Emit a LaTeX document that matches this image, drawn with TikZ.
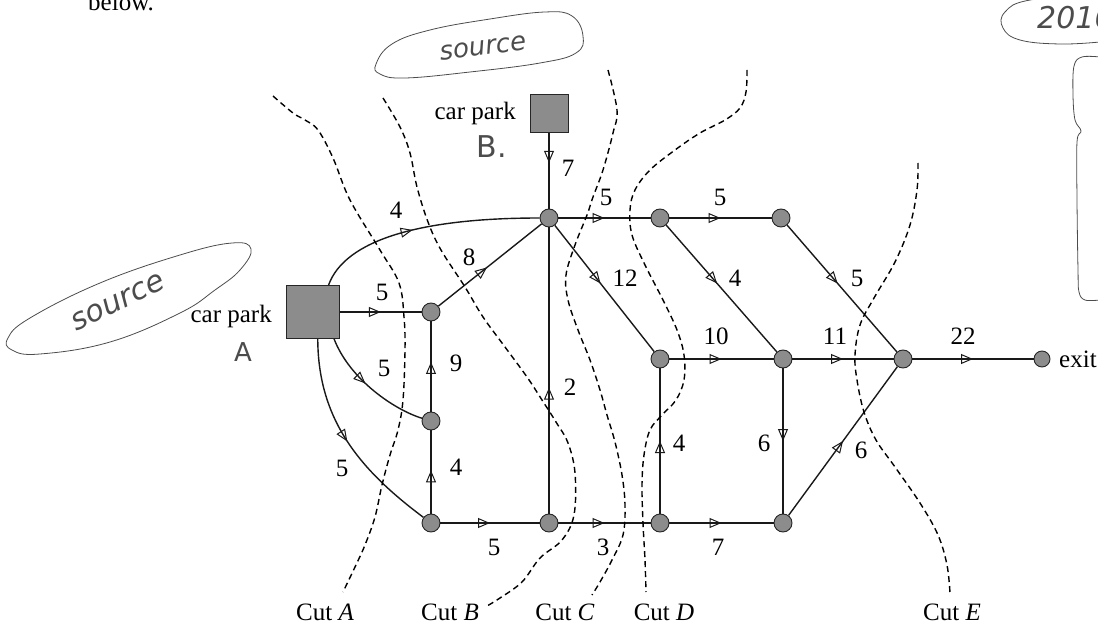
\documentclass[tikz,border=0pt]{standalone}
\usepackage{fontspec}
\setmainfont{Liberation Serif}
\newfontfamily\handfont{DejaVu Sans}
\usetikzlibrary{arrows.meta,decorations.markings}

\begin{document}
\begin{tikzpicture}[x=1pt,y=-1pt,
  vtx/.style={circle, draw=black!85, fill=black!45, line width=0.9pt, inner sep=0pt, minimum size=18pt},
  park/.style={rectangle, draw=black!85, fill=black!45, line width=1pt, inner sep=0pt},
  edge/.style={line width=1.4pt, draw=black!90},
  flow/.style={edge, postaction={decorate}, decoration={markings,
      mark=at position #1 with {\arrow{Triangle[open, length=12pt, width=10pt, line width=1pt]}}}},
  flow/.default=0.5,
  cut/.style={dash pattern=on 6pt off 4pt, line width=1.4pt},
  lbl/.style={font=\fontsize{25}{28}\selectfont, inner sep=0pt},
  hand/.style={draw=black!70, line width=0.8pt},
  handtext/.style={font=\handfont\fontsize{26}{28}\selectfont, text=black!70, inner sep=0pt},
]
\useasboundingbox (0,0) rectangle (1098,628);
\clip (0,0) rectangle (1098,628);

% ---- sources, vertices and exit ----
\node[park, minimum size=53pt] (A) at (313,312) {};
\node[park, minimum size=38pt] (B) at (549,114) {};
\node[vtx] (P)  at (431,312) {};
\node[vtx] (Q)  at (431,421) {};
\node[vtx] (R)  at (431,523) {};
\node[vtx] (S)  at (549,523) {};
\node[vtx] (N1) at (549,218) {};
\node[vtx] (N2) at (660,218) {};
\node[vtx] (N3) at (781,218) {};
\node[vtx] (T)  at (660,359) {};
\node[vtx] (V)  at (783,359) {};
\node[vtx] (X)  at (903,359) {};
\node[vtx] (U)  at (660,523) {};
\node[vtx] (W)  at (783,523) {};
\node[vtx, minimum size=16pt] (E) at (1042,359) {};

% ---- arcs with capacities ----
\draw[flow] (A) -- (P);
\draw[flow=0.45] (A.60) .. controls (345,240) and (420,218) .. (N1);
\draw[flow=0.45] (A.-52) .. controls (350,380) and (395,410) .. (Q);
\draw[flow=0.5] (A.-80) .. controls (318,420) and (360,470) .. (R);
\draw[flow=0.52] (R) -- (Q);
\draw[flow=0.55] (Q) -- (P);
\draw[flow=0.47] (P) -- (N1);
\draw[flow=0.39] (B) -- (N1);
\draw[flow=0.44] (S) -- (N1);
\draw[flow] (R) -- (S);
\draw[flow] (S) -- (U);
\draw[flow] (U) -- (W);
\draw[flow] (N1) -- (N2);
\draw[flow] (N2) -- (N3);
\draw[flow=0.46] (N1) -- (T);
\draw[flow=0.46] (N2) -- (V);
\draw[flow=0.46] (N3) -- (X);
\draw[flow] (T) -- (V);
\draw[flow] (V) -- (X);
\draw[flow] (X) -- (E);
\draw[flow] (U) -- (T);
\draw[flow] (V) -- (W);
\draw[flow] (W) -- (X);

% ---- capacity labels ----
\node[lbl] (cAP)  at (382,292) {5};
\node[lbl] (cAN)  at (396,210) {4};
\node[lbl] (cAQ)  at (384,368) {5};
\node[lbl] (cAR)  at (342,468) {5};
\node[lbl] (cPN)  at (469,257) {8};
\node[lbl] (cQP)  at (456,363) {9};
\node[lbl] (cRQ)  at (456,467) {4};
\node[lbl] (cRS)  at (494,547) {5};
\node[lbl] (cSU)  at (603,547) {3};
\node[lbl] (cUW)  at (718,547) {7};
\node[lbl] (cBN)  at (568,168) {7};
\node[lbl] (cSN)  at (570,387) {2};
\node[lbl] (cN12) at (606,197) {5};
\node[lbl] (cN23) at (720,197) {5};
\node[lbl] (cN1T) at (625,278) {12};
\node[lbl] (cN2V) at (735,278) {4};
\node[lbl] (cN3X) at (857,278) {5};
\node[lbl] (cTV)  at (716,336) {10};
\node[lbl] (cVX)  at (835,336) {11};
\node[lbl] (cXE)  at (963,336) {22};
\node[lbl] (cUT)  at (679,443) {4};
\node[lbl] (cVW)  at (764,443) {6};
\node[lbl] (cWX)  at (861,450) {6};

\node[lbl, anchor=east] (tA) at (272,316) {car park};
\node[lbl, anchor=east] (tB) at (516,113) {car park};
\node[lbl, anchor=west] (tE) at (1059,359) {exit};
\node[lbl, anchor=base west] (tbelow) at (88,11) {below.};

% ---- cuts ----
\draw[cut] plot[smooth, tension=0.6] coordinates {(273,96) (293,113) (305,120) (318,130) (333,158) (350,200) (380,250) (399,283) (404,317) (405,350) (403,400) (398,430) (390,455) (382,485) (375,517) (365,545) (355,567) (343,592)};
\draw[cut] plot[smooth, tension=0.6] coordinates {(383,98) (400,127) (410,153) (417,187) (428,222) (441,250) (465,287) (483,317) (505,347) (527,377) (542,400) (556,422) (568,443) (575,473) (574,515) (562,540) (540,558) (522,582) (500,598) (487,606)};
\draw[cut] plot[smooth, tension=0.6] coordinates {(608,70) (617,110) (613,133) (603,170) (593,197) (587,215) (575,245) (566,275) (568,300) (578,330) (590,360) (600,390) (607,415) (615,442) (622,475) (625,505) (623,535) (612,560) (600,582) (592,595)};
\draw[cut] plot[smooth, tension=0.6] coordinates {(747,70) (746,92) (740,108) (725,120) (700,133) (675,150) (650,170) (635,190) (630,210) (632,235) (645,265) (663,300) (677,330) (684,355) (684,380) (676,400) (662,415) (650,430) (644,455) (642,485) (643,523) (645,560) (646,592)};
\draw[cut] plot[smooth, tension=0.6] coordinates {(918,163) (917,190) (910,225) (895,262) (874,298) (860,325) (855,355) (857,380) (864,412) (876,440) (895,467) (920,503) (938,535) (947,565) (950,593)};

\node[lbl] (kA) at (325,612) {Cut \textit{A}};
\node[lbl] (kB) at (450,612) {Cut \textit{B}};
\node[lbl] (kC) at (565,612) {Cut \textit{C}};
\node[lbl] (kD) at (664,612) {Cut \textit{D}};
\node[lbl] (kE) at (952,612) {Cut \textit{E}};

% ---- pencil notes ----
\draw[hand] plot[smooth cycle, tension=0.7] coordinates {(376,64) (392,44) (430,30) (490,19) (545,12) (572,16) (583,36) (576,53) (540,63) (470,72) (405,78) (380,74)};
\node[handtext, rotate=7] (s1) at (483,48) {\itshape source};
\draw[hand] plot[smooth cycle, tension=0.7] coordinates {(8,338) (30,318) (100,283) (180,255) (232,243) (251,249) (240,270) (215,290) (180,313) (110,342) (40,354) (12,350)};
\node[handtext, rotate=26, font=\handfont\fontsize{30}{32}\selectfont] (s2) at (118,302) {\itshape source};
\node[handtext] (hA) at (243,352) {A};
\node[handtext, font=\handfont\fontsize{30}{32}\selectfont] (hB) at (492,147) {B.};
\draw[hand] plot[smooth, tension=0.7] coordinates {(1100,-6) (1030,0) (1005,12) (1003,28) (1020,40) (1060,44) (1100,42)};
\node[handtext, anchor=west, font=\handfont\fontsize{30}{32}\selectfont] (h2) at (1037,18) {\itshape 2016};
\draw[hand] plot[smooth, tension=0.6] coordinates {(1100,57) (1082,57) (1074,66) (1073,95) (1075,120) (1081,131) (1077,142) (1077,200) (1078,270) (1079,292) (1085,300) (1100,300)};
\end{tikzpicture}
\end{document}
